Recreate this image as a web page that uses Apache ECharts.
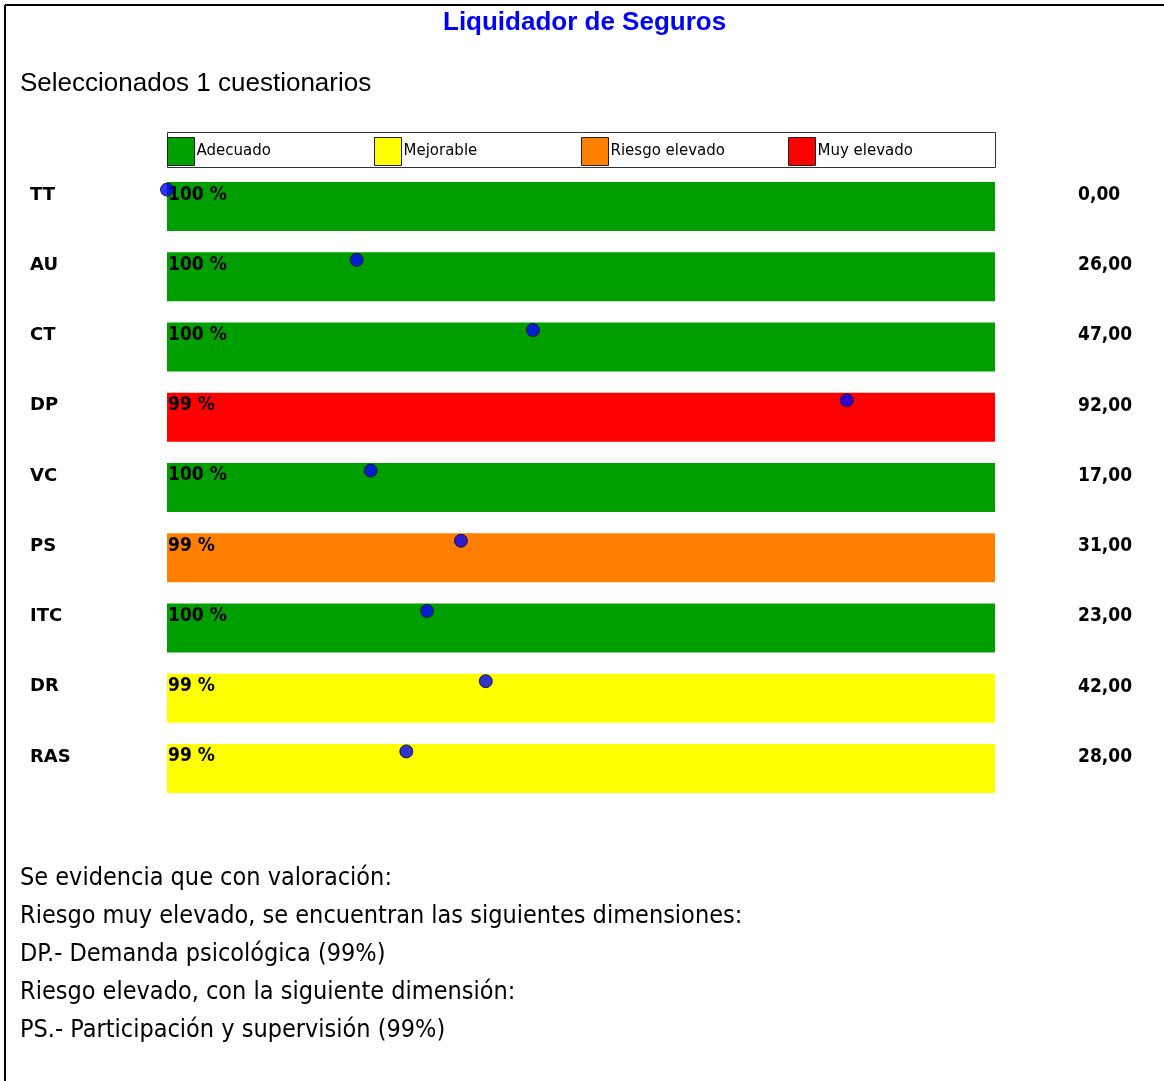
<!DOCTYPE html>
<html>
<head>
<meta charset="utf-8">
<script src="https://cdn.jsdelivr.net/npm/echarts@6/dist/echarts.min.js"></script>
<style>
html, body { margin: 0; padding: 0; background: #fff; }
#chart { width: 1164px; height: 1081px; }
</style>
</head>
<body>
<div id="chart"></div>
<script>
// dimensiones
var dimensiones = ["TT", "AU", "CT", "DP", "VC", "PS", "ITC", "DR", "RAS"];
// porcentaje de la valoración
var porcentajes = [100, 100, 100, 99, 100, 99, 100, 99, 99];
// nivel de cada dimensión
var niveles = ["Adecuado", "Adecuado", "Adecuado", "Muy elevado", "Adecuado",
	"Riesgo elevado", "Adecuado", "Mejorable", "Mejorable"];
// puntuación (columna derecha)
var puntuaciones = [0, 26, 47, 92, 17, 31, 23, 42, 28];
// posición del punto sobre la barra (0-100)
var posiciones = [0, 22.9, 44.2, 82.1, 24.6, 35.5, 31.4, 38.5, 28.9];

var nombresNivel = ["Adecuado", "Mejorable", "Riesgo elevado", "Muy elevado"];
var coloresNivel = ["#009f00", "#ffff00", "#ff8000", "#ff0000"];

var lineasTexto = [
	"Se evidencia que con valoración:",
	"Riesgo muy elevado, se encuentran las siguientes dimensiones:",
	"DP.- Demanda psicológica (99%)",
	"Riesgo elevado, con la siguiente dimensión:",
	"PS.- Participación y supervisión (99%)"
];

var fuenteNum = '"DejaVu Sans Condensed", sans-serif';

function init() {
	var myChart = echarts.init(document.getElementById("chart"));

	var series = [];
	nombresNivel.forEach(function(n, k) {
		series.push({
			name : n,
			type : 'bar',
			stack : 'total',
			barWidth : 49,
			color : coloresNivel[k],
			itemStyle : { color : coloresNivel[k] },
			data : dimensiones.map(function(d, i) {
				return niveles[i] === n ? 100 : '-';
			}),
			label : {
				show : true,
				position : [1, 3],
				color : '#000',
				fontFamily : fuenteNum,
				fontWeight : 'bold',
				fontSize : 19,
				formatter : function(p) {
					return porcentajes[p.dataIndex] + ' %';
				}
			},
			silent : true
		});
	});
	series.push({
		type : 'scatter',
		data : posiciones.map(function(v, i) { return [v, i]; }),
		symbol : 'circle',
		symbolSize : 13,
		symbolOffset : [0, -17],
		clip : false,
		z : 10,
		itemStyle : {
			color : '#0000ff',
			borderColor : '#000033',
			borderWidth : 1
		}
	});

	var legends = nombresNivel.map(function(n, k) {
		return {
			data : [n],
			left : 167 + k * 207,
			top : 137,
			padding : 0,
			icon : 'rect',
			itemWidth : 27,
			itemHeight : 28,
			itemStyle : { borderColor : '#222', borderWidth : 1 },
			selectedMode : false,
			textStyle : {
				fontFamily : '"DejaVu Sans", sans-serif',
				fontSize : 15,
				color : '#000',
				padding : [0, 0, 6, -3]
			}
		};
	});

	var option = {
		backgroundColor : '#fff',
		animation : false,
		title : [ {
			text : 'Liquidador de Seguros',
			left : 443,
			top : 10,
			padding : 0,
			textStyle : {
				color : '#0000ff',
				fontSize : 26,
				fontWeight : 'bold',
				fontFamily : '"Liberation Sans", Arial, sans-serif'
			}
		}, {
			text : 'Seleccionados 1 cuestionarios',
			left : 20,
			top : 71,
			padding : 0,
			textStyle : {
				color : '#000',
				fontSize : 26,
				fontWeight : 'normal',
				fontFamily : '"Liberation Sans", Arial, sans-serif'
			}
		} ],
		legend : legends,
		grid : {
			left : 167,
			width : 828,
			top : 171.5,
			height : 632
		},
		xAxis : {
			type : 'value',
			min : 0,
			max : 100,
			show : false
		},
		yAxis : [ {
			type : 'category',
			data : dimensiones,
			inverse : true,
			axisLine : { show : false },
			axisTick : { show : false },
			splitLine : { show : false },
			axisLabel : {
				align : 'left',
				margin : 137,
				lineHeight : 23,
				formatter : function(v) { return v + '\n '; },
				color : '#000',
				fontSize : 18,
				fontWeight : 'bold',
				fontFamily : '"DejaVu Sans", sans-serif'
			}
		}, {
			type : 'category',
			position : 'right',
			data : puntuaciones.map(function(v) { return v.toFixed(2).replace('.', ','); }),
			inverse : true,
			axisLine : { show : false },
			axisTick : { show : false },
			splitLine : { show : false },
			axisLabel : {
				align : 'left',
				margin : 83,
				lineHeight : 23,
				formatter : function(v) { return v + '\n '; },
				color : '#000',
				fontSize : 19,
				fontWeight : 'bold',
				fontFamily : fuenteNum
			}
		} ],
		graphic : [ {
			type : 'rect',
			shape : { x : 167.5, y : 132.5, width : 828, height : 35 },
			style : { fill : 'none', stroke : '#333', lineWidth : 1 },
			z : -1
		}, {
			type : 'line',
			shape : { x1 : 5, y1 : 5, x2 : 1164, y2 : 5 },
			style : { stroke : '#000', lineWidth : 2 }
		}, {
			type : 'line',
			shape : { x1 : 5, y1 : 5, x2 : 5, y2 : 1081 },
			style : { stroke : '#000', lineWidth : 2 }
		}, {
			type : 'text',
			left : 20,
			top : 859,
			style : {
				text : lineasTexto.join('\n'),
				fill : '#000',
				fontSize : 25,
				lineHeight : 38,
				fontFamily : fuenteNum
			}
		} ],
		series : series
	};
	myChart.setOption(option);
}
init();
</script>
</body>
</html>
